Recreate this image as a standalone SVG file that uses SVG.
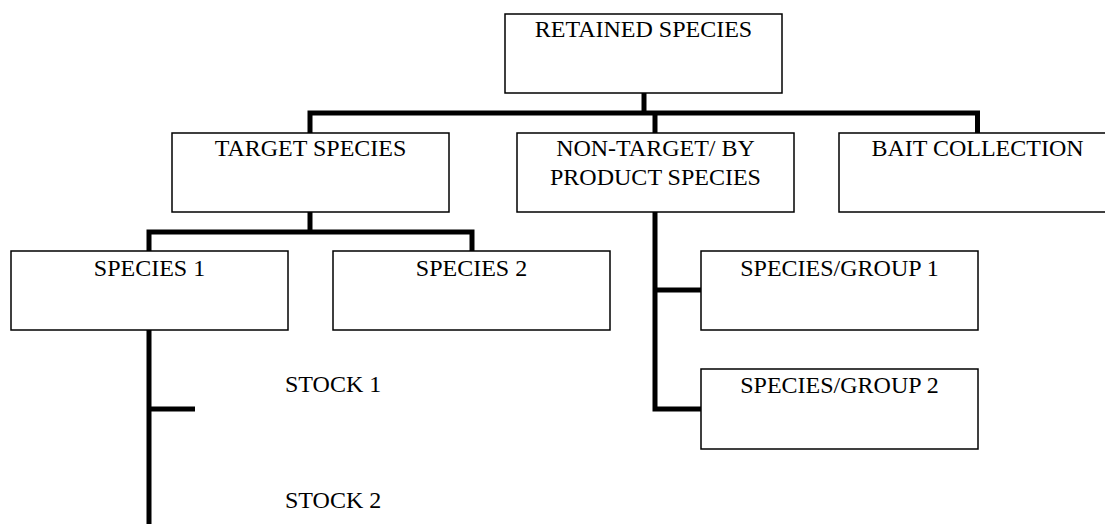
<svg xmlns="http://www.w3.org/2000/svg" width="1105" height="524" viewBox="0 0 1105 524">
  <style>
    .box { fill: #ffffff; stroke: #000000; stroke-width: 1.5; }
    .lbl { font-family: "Liberation Serif", "Times New Roman", serif; font-size: 24px; fill: #000000; text-anchor: middle; }
    .free { text-anchor: start; }
    .wire { fill: none; stroke: #000000; stroke-width: 5; stroke-linejoin: miter; stroke-linecap: butt; }
  </style>
  <rect width="1105" height="524" fill="#ffffff"/>

  <!-- connectors -->
  <g id="connectors">
    <path class="wire" d="M644,93 V113"/>
    <path class="wire" d="M310,133 V113 H977.5 V133"/>
    <path class="wire" d="M655,113 V133"/>
    <path class="wire" d="M310,212 V232"/>
    <path class="wire" d="M149,251 V232 H472 V251"/>
    <path class="wire" d="M655,212 V409 H701"/>
    <path class="wire" d="M655,290 H701"/>
    <path class="wire" d="M149,330 V524"/>
    <path class="wire" d="M149,409 H195"/>
  </g>

  <g id="retained-species">
    <rect class="box" x="505" y="14" width="277" height="79"/>
    <text class="lbl" x="643.5" y="37">RETAINED SPECIES</text>
  </g>

  <g id="target-species">
    <rect class="box" x="172" y="133" width="277" height="79"/>
    <text class="lbl" x="310.5" y="156">TARGET SPECIES</text>
  </g>

  <g id="non-target-species">
    <rect class="box" x="517" y="133" width="277" height="79"/>
    <text class="lbl" x="655.5" y="156">NON-TARGET/ BY</text>
    <text class="lbl" x="655.5" y="185">PRODUCT SPECIES</text>
  </g>

  <g id="bait-collection">
    <rect class="box" x="839" y="133" width="277" height="79"/>
    <text class="lbl" x="977.5" y="156">BAIT COLLECTION</text>
  </g>

  <g id="species-1">
    <rect class="box" x="11" y="251" width="277" height="79"/>
    <text class="lbl" x="149.5" y="276">SPECIES 1</text>
  </g>

  <g id="species-2">
    <rect class="box" x="333" y="251" width="277" height="79"/>
    <text class="lbl" x="471.5" y="276">SPECIES 2</text>
  </g>

  <g id="species-group-1">
    <rect class="box" x="701" y="251" width="277" height="79"/>
    <text class="lbl" x="839.5" y="276">SPECIES/GROUP 1</text>
  </g>

  <g id="species-group-2">
    <rect class="box" x="701" y="369" width="277" height="80"/>
    <text class="lbl" x="839.5" y="393">SPECIES/GROUP 2</text>
  </g>

  <g id="stock-1">
    <text class="lbl free" x="285" y="392">STOCK 1</text>
  </g>

  <g id="stock-2">
    <text class="lbl free" x="285" y="508">STOCK 2</text>
  </g>
</svg>
